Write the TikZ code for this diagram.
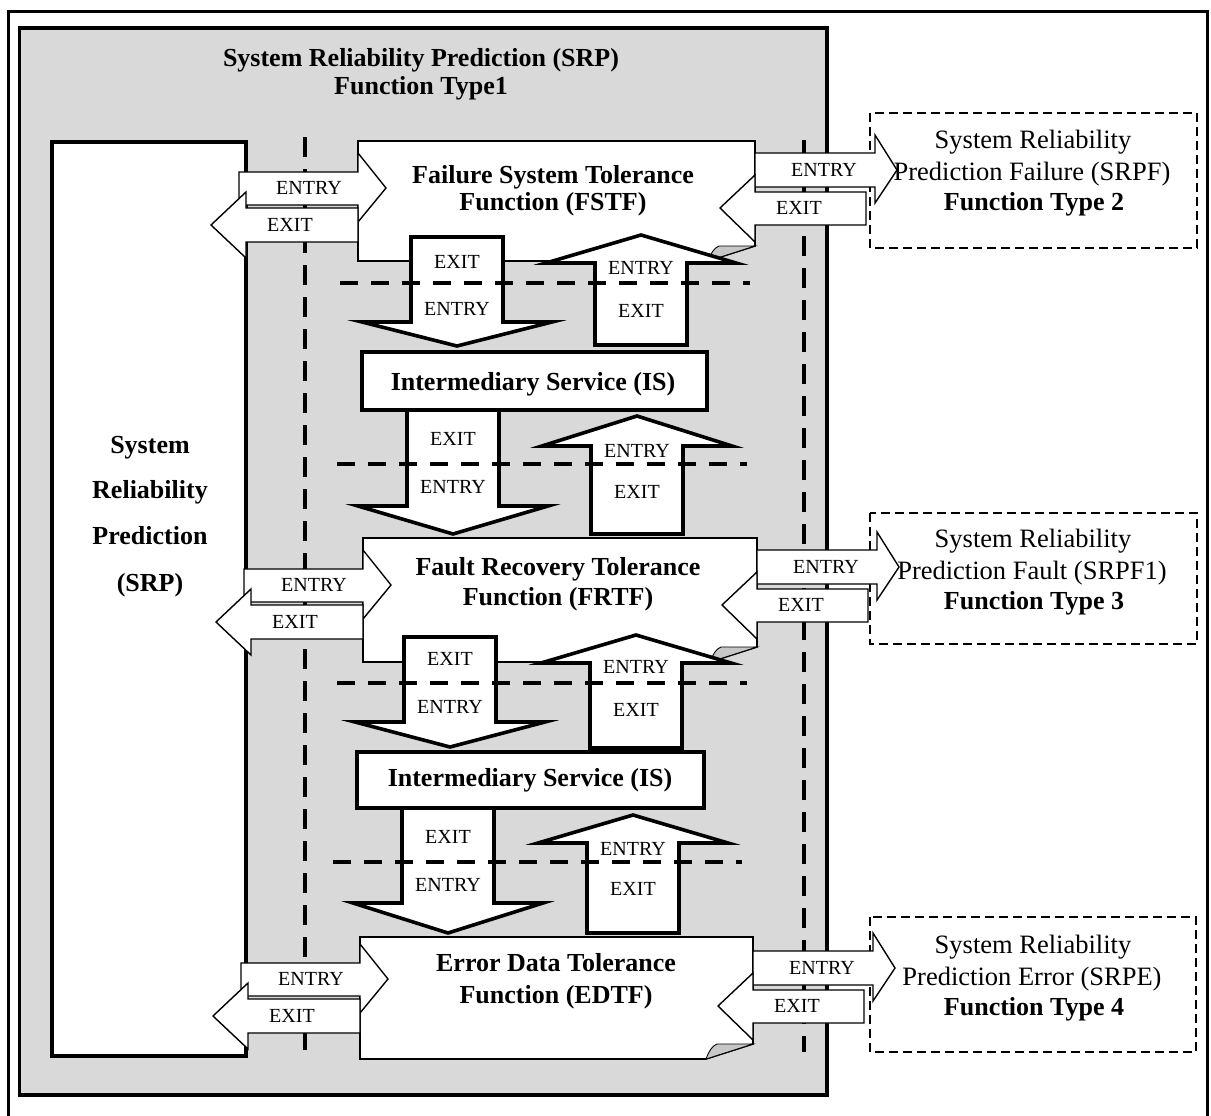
\documentclass[tikz,border=0pt]{standalone}
\usepackage{fontspec}
\setmainfont{Liberation Serif}

% Page with a curled lower-right corner: L, T, R, B
\newcommand{\docpage}[4]{%
  \path[docshape] (#1,#2) -- (#3,#2) -- (#3,{#4-15}) -- ({#3-47},#4) -- (#1,#4) -- cycle;
  \path[flap] ({#3-47},#4) .. controls ({#3-44},{#4-8}) and ({#3-41},{#4-13}) .. ({#3-36},{#4-15})
     -- (#3,{#4-15}) -- cycle;}
% Thick block arrows: centre x, start y, head base y, tip y
\newcommand{\downblock}[4]{%
  \draw[blockarrow] ({#1-46},#2) -- ({#1+46},#2) -- ({#1+46},#3) -- ({#1+95},#3)
     -- (#1,#4) -- ({#1-95},#3) -- ({#1-46},#3) -- cycle;}
\newcommand{\upblock}[4]{%
  \draw[blockarrow] ({#1-46},#2) -- ({#1+46},#2) -- ({#1+46},#3) -- ({#1+95},#3)
     -- (#1,#4) -- ({#1-95},#3) -- ({#1-46},#3) -- cycle;}
% Thin side arrows on the left edge of a page (L = page edge, a = reference height)
\newcommand{\entryleft}[2]{%
  \draw[sidearrow] ({#1-119},{#2-16}) -- (#1,{#2-16}) -- (#1,{#2-35}) -- ({#1+28},#2)
     -- (#1,{#2+34}) -- (#1,{#2+17}) -- ({#1-119},{#2+17}) -- cycle;}
\newcommand{\exitleft}[2]{%
  \draw[sidearrow] ({#1-147},{#2+37}) -- ({#1-112},{#2+4}) -- ({#1-112},{#2+20}) -- (#1,{#2+20})
     -- (#1,{#2+54}) -- ({#1-112},{#2+54}) -- ({#1-112},{#2+70}) -- cycle;}
% Thin side arrows on the right edge of a page (R = page edge, b = reference height)
\newcommand{\entryright}[2]{%
  \draw[sidearrow] (#1,{#2-17}) -- ({#1+120},{#2-17}) -- ({#1+120},{#2-35}) -- ({#1+142},#2)
     -- ({#1+120},{#2+33}) -- ({#1+120},{#2+17}) -- (#1,{#2+17}) -- cycle;}
\newcommand{\exitright}[2]{%
  \draw[sidearrow] ({#1-35},{#2+38}) -- (#1,{#2+5}) -- (#1,{#2+22}) -- ({#1+111},{#2+22})
     -- ({#1+111},{#2+55}) -- (#1,{#2+55}) -- (#1,{#2+72}) -- cycle;}

\begin{document}
\begin{tikzpicture}[x=1pt,y=-1pt,
  panel/.style={draw=black,line width=3.8pt,fill=black!15},
  whitebox/.style={draw=black,line width=3.8pt,fill=white},
  blockarrow/.style={draw=black,line width=3.6pt,fill=white,line join=miter},
  sidearrow/.style={draw=black,line width=1.4pt,fill=white,line join=miter},
  docshape/.style={draw=black,line width=1.6pt,fill=white},
  flap/.style={draw=black,line width=0.9pt,fill=black!22},
  vdash/.style={line width=3.2pt,dash pattern=on 20pt off 12pt},
  hdash/.style={line width=3.6pt,dash pattern=on 18pt off 13pt},
  boxdash/.style={draw=black,line width=1.5pt,dash pattern=on 9pt off 5pt},
  lbl/.style={font=\fontsize{20}{24}\selectfont,inner sep=0pt,anchor=base},
  bold/.style={font=\fontsize{26}{30}\selectfont\bfseries,inner sep=0pt,anchor=base},
  plain/.style={font=\fontsize{26.5}{30}\selectfont,inner sep=0pt,anchor=base},
]
\useasboundingbox (0,0) rectangle (1211,1116);
\clip (0,0) rectangle (1211,1116);
\fill[white] (0,0) rectangle (1211,1116);

% outer frame and shaded SRP panel
\draw[line width=3pt] (8.5,11.5) rectangle (1207,1140);
\draw[panel] (19.5,28) rectangle (827,1095);
\node[bold] (title1) at (421,66.5) {System Reliability Prediction (SRP)};
\node[bold] (title2) at (421,95) {Function Type1};

% boundary lines
\draw[vdash] (305,137) -- (305,1050);
\draw[vdash] (804,140) -- (804,1052);

% left SRP column
\draw[whitebox] (52,142) rectangle (246,1056);
\node[bold] (srp1) at (150,453.5) {System};
\node[bold] (srp2) at (150,498.5) {Reliability};
\node[bold] (srp3) at (150,544.5) {Prediction};
\node[bold] (srp4) at (150,591.5) {(SRP)};

% external function types
\draw[boxdash] (870,113) rectangle (1197,248);
\node[plain] (f2a) at (1033,148.5) {System Reliability};
\node[plain] (f2b) at (1032,180.5) {Prediction Failure (SRPF)};
\node[bold]  (f2c) at (1034,210.5) {Function Type 2};
\draw[boxdash] (870,513) rectangle (1197,644);
\node[plain] (f3a) at (1033,547.5) {System Reliability};
\node[plain] (f3b) at (1032,579.5) {Prediction Fault (SRPF1)};
\node[bold]  (f3c) at (1034,609.5) {Function Type 3};
\draw[boxdash] (870,917) rectangle (1196,1052);
\node[plain] (f4a) at (1033,953.5) {System Reliability};
\node[plain] (f4b) at (1032,985.5) {Prediction Error (SRPE)};
\node[bold]  (f4c) at (1034,1015.5) {Function Type 4};

% tolerance functions and intermediary services
\docpage{358}{141}{755}{261}
\docpage{363}{538}{757}{662}
\docpage{360}{937}{753}{1059}
\draw[whitebox] (362,352) rectangle (707,410);
\draw[whitebox] (357,752) rectangle (704,808);

% block arrows between the stages
\downblock{457}{237}{322}{346}
\upblock{641}{345}{263}{235}
\downblock{453}{410}{506}{534}
\upblock{637}{534}{446}{416}
\downblock{450}{637}{722}{747}
\upblock{636}{748}{663}{635}
\downblock{448}{808}{903}{933}
\upblock{633}{933}{843}{815}

% stage boundaries
\draw[hdash] (340,283) -- (750,283);
\draw[hdash] (337,464) -- (747,464);
\draw[hdash] (337,683) -- (747,683);
\draw[hdash] (333,862) -- (742,862);

% side arrows
\entryleft{358}{188}  \exitleft{358}{188}
\entryleft{363}{585}  \exitleft{363}{585}
\entryleft{360}{979}  \exitleft{360}{979}
\entryright{755}{170} \exitright{755}{170}
\entryright{757}{567} \exitright{757}{567}
\entryright{753}{968} \exitright{753}{968}

% stage titles
\node[bold] (fstf1) at (553,183.5) {Failure System Tolerance};
\node[bold] (fstf2) at (553,210.5) {Function (FSTF)};
\node[bold] (is1) at (533,390.5) {Intermediary Service (IS)};
\node[bold] (frtf1) at (558,575.5) {Fault Recovery Tolerance};
\node[bold] (frtf2) at (558,605.5) {Function (FRTF)};
\node[bold] (is2) at (530,786.5) {Intermediary Service (IS)};
\node[bold] (edtf1) at (556,971.5) {Error Data Tolerance};
\node[bold] (edtf2) at (556,1003.5) {Function (EDTF)};

% block arrow labels
\node[lbl] (d1a) at (457,268.6) {EXIT};
\node[lbl] (d1b) at (457,315.6) {ENTRY};
\node[lbl] (u1a) at (641,274.6) {ENTRY};
\node[lbl] (u1b) at (641,317.6) {EXIT};
\node[lbl] (d2a) at (453,445.6) {EXIT};
\node[lbl] (d2b) at (453,493.6) {ENTRY};
\node[lbl] (u2a) at (637,457.6) {ENTRY};
\node[lbl] (u2b) at (637,498.6) {EXIT};
\node[lbl] (d3a) at (450,665.6) {EXIT};
\node[lbl] (d3b) at (450,713.6) {ENTRY};
\node[lbl] (u3a) at (636,673.6) {ENTRY};
\node[lbl] (u3b) at (636,716.6) {EXIT};
\node[lbl] (d4a) at (448,843.6) {EXIT};
\node[lbl] (d4b) at (448,891.6) {ENTRY};
\node[lbl] (u4a) at (633,855.6) {ENTRY};
\node[lbl] (u4b) at (633,895.6) {EXIT};

% side arrow labels
\node[lbl] (l1a) at (309,194.6) {ENTRY};
\node[lbl] (l1b) at (290,231.6) {EXIT};
\node[lbl] (l2a) at (314,591.6) {ENTRY};
\node[lbl] (l2b) at (295,628.6) {EXIT};
\node[lbl] (l3a) at (311,985.6) {ENTRY};
\node[lbl] (l3b) at (292,1022.6) {EXIT};
\node[lbl] (r1a) at (824,176.6) {ENTRY};
\node[lbl] (r1b) at (799,214.6) {EXIT};
\node[lbl] (r2a) at (826,573.6) {ENTRY};
\node[lbl] (r2b) at (801,611.6) {EXIT};
\node[lbl] (r3a) at (822,974.6) {ENTRY};
\node[lbl] (r3b) at (797,1012.6) {EXIT};
\end{tikzpicture}
\end{document}
